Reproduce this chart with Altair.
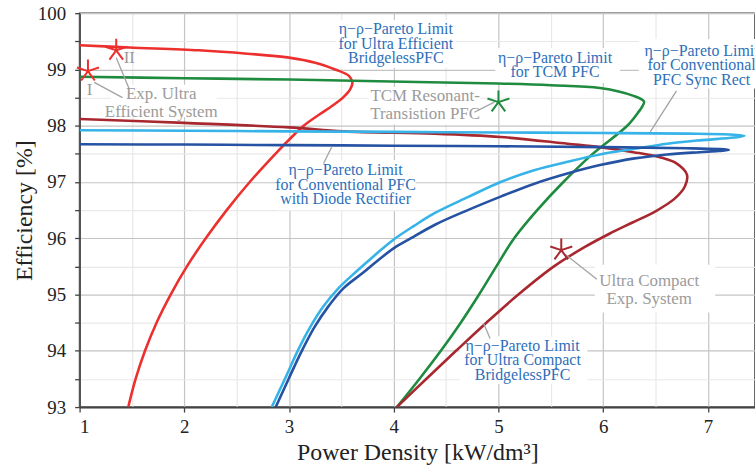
import altair as alt
import pandas as pd

# ---------------- data ----------------
series_names = ["Ultra Efficient", "TCM PFC", "Ultra Compact", "Sync Rect", "Diode Rect"]
series_colors = ["#ec302e", "#1f8b3f", "#a8282f", "#36b3e8", "#2552a3"]

ue_x = [1.0, 1.475, 2.14, 2.6, 3.0, 3.25, 3.44, 3.57, 3.605, 3.585, 3.515, 3.41, 3.29, 3.14, 3.0,
        2.87, 2.625, 2.405, 2.205, 2.025, 1.87, 1.735, 1.625, 1.535, 1.465]
ue_y = [99.43, 99.39, 99.34, 99.28, 99.21, 99.12, 99.0, 98.89, 98.77, 98.65, 98.5, 98.35, 98.2, 98.0, 97.75,
        97.5, 97.0, 96.5, 96.0, 95.5, 95.0, 94.5, 94.0, 93.5, 93.0]

tcm_x = [1.0, 2.0, 3.0, 3.85, 5.0, 5.5, 5.97, 6.29, 6.39, 6.37, 6.34, 6.23, 5.90, 5.62,
         5.37, 5.15, 4.98, 4.815, 4.64, 4.45, 4.245, 4.03]
tcm_y = [98.87, 98.845, 98.82, 98.79, 98.75, 98.72, 98.67, 98.53, 98.43, 98.33, 98.25, 98.0, 97.5, 97.0,
         96.5, 96.0, 95.5, 95.0, 94.5, 94.0, 93.5, 93.0]

uc_x = [1.0, 2.0, 3.0, 3.52, 4.39, 5.02, 5.66, 5.97, 6.29, 6.54, 6.70, 6.80, 6.78, 6.68,
        6.50, 6.28, 6.06, 5.83, 5.53, 5.19, 4.885, 4.595, 4.31, 4.03]
uc_y = [98.12, 98.05, 97.97, 97.9, 97.86, 97.80, 97.68, 97.62, 97.53, 97.44, 97.33, 97.13, 96.92, 96.70,
        96.48, 96.28, 96.08, 95.85, 95.5, 95.0, 94.5, 94.0, 93.5, 93.0]

sr_x = [1.0, 2.0, 3.0, 4.0, 5.0, 6.0, 6.8, 7.2, 7.35, 7.25, 6.92, 6.61, 6.30, 5.97, 5.66,
        5.34, 5.021, 4.707, 4.394, 4.194, 3.994, 3.814, 3.643, 3.471, 3.329, 3.205, 3.091, 2.968, 2.835]
sr_y = [97.92, 97.91, 97.90, 97.89, 97.88, 97.87, 97.86, 97.845, 97.82, 97.79, 97.74, 97.68, 97.59, 97.49, 97.36,
        97.21, 97.0, 96.73, 96.45, 96.22, 95.97, 95.69, 95.41, 95.11, 94.79, 94.43, 94.03, 93.53, 93.0]

dr_x = [1.0, 2.0, 3.0, 4.0, 5.0, 6.0, 6.8, 7.1, 7.2, 7.1, 6.92, 6.61, 6.30, 5.97, 5.658,
        5.344, 5.021, 4.707, 4.394, 4.137, 4.023, 3.871, 3.709, 3.519, 3.376, 3.243, 3.12, 2.996, 2.873]
dr_y = [97.67, 97.665, 97.655, 97.645, 97.635, 97.62, 97.60, 97.585, 97.57, 97.55, 97.53, 97.49, 97.42, 97.30, 97.15,
        96.97, 96.74, 96.50, 96.24, 95.97, 95.85, 95.64, 95.39, 95.11, 94.79, 94.42, 93.99, 93.50, 93.0]

# experimental systems (stars)
star_x = [1.08, 1.35, 5.0, 5.6]
star_y = [98.97, 99.34, 98.42, 95.79]
star_series = ["Ultra Efficient", "Ultra Efficient", "TCM PFC", "Ultra Compact"]

# annotation texts (position = centre of first line)
blue_text = ["η−ρ−Pareto Limit\nfor Ultra Efficient\nBridgelessPFC",
             "η−ρ−Pareto Limit\nfor TCM PFC",
             "η−ρ−Pareto Limit\nfor Conventional\nPFC Sync Rect",
             "η−ρ−Pareto Limit\nfor Conventional PFC\nwith Diode Rectifier",
             "η−ρ−Pareto Limit\nfor Ultra Compact\nBridgelessPFC"]
blue_x = [4.02, 5.54, 6.94, 3.54, 5.23]
blue_y = [99.715, 99.21, 99.33, 97.21, 94.09]

gray_text = ["Exp. Ultra\nEfficient System", "TCM Resonant-\nTransistion PFC",
             "Ultra Compact\nExp. System", "I", "II"]
gray_x = [1.78, 4.30, 6.44, 1.095, 1.475]
gray_y = [98.56, 98.53, 95.235, 98.64, 99.21]

# label backgrounds (data coordinates)
box_x1 = [3.45, 4.97, 6.34, 2.88, 4.63, 1.30, 3.76, 5.92]
box_x2 = [4.59, 6.16, 7.56, 4.21, 5.85, 2.31, 4.82, 7.07]
box_y1 = [99.03, 98.76, 98.66, 96.50, 93.41, 98.15, 98.02, 94.68]
box_y2 = [99.88, 99.38, 99.54, 97.39, 94.26, 98.73, 98.69, 95.53]

# leader lines
lead_x1 = [1.14, 1.35, 4.77, 6.70, 3.41, 4.86, 5.64]
lead_y1 = [98.77, 99.21, 98.24, 98.62, 97.63, 94.48, 95.71]
lead_x2 = [1.41, 1.475, 4.96, 6.45, 3.33, 4.92, 5.94]
lead_y2 = [98.50, 98.65, 98.42, 97.89, 97.33, 94.22, 95.27]

# ---------------- tables ----------------
rows = []
for name, xs, ys in zip(series_names, [ue_x, tcm_x, uc_x, sr_x, dr_x], [ue_y, tcm_y, uc_y, sr_y, dr_y]):
    for i, (a, b) in enumerate(zip(xs, ys)):
        rows.append({"series": name, "x": a, "y": b, "o": i})
curves = pd.DataFrame(rows)
stars = pd.DataFrame({"series": star_series, "x": star_x, "y": star_y})
blue = pd.DataFrame({"t": blue_text, "x": blue_x, "y": blue_y})
gray = pd.DataFrame({"t": gray_text, "x": gray_x, "y": gray_y})
boxes = pd.DataFrame({"x": box_x1, "x2": box_x2, "y": box_y1, "y2": box_y2})
leads = pd.DataFrame({"x": lead_x1, "y": lead_y1, "x2": lead_x2, "y2": lead_y2})

FONT = "Liberation Serif, Times New Roman, DejaVu Serif, serif"
minor = "datum.value % 1 !== 0"
xs_ = alt.Scale(domain=[1, 7.45], nice=False, zero=False)
ys_ = alt.Scale(domain=[93, 100], nice=False, zero=False)

xaxis = alt.Axis(
    values=[1 + 0.5 * i for i in range(14)],
    labelExpr="datum.value % 1 === 0 ? format(datum.value, 'd') : ''",
    title="Power Density [kW/dm³]", titleFont=FONT, titleFontSize=24, titleFontWeight="normal",
    titleColor="#222", titleY=53, titleBaseline="alphabetic",
    labelFont=FONT, labelFontSize=19, labelColor="#222", labelPadding=6,
    tickSize=5, tickColor="#444", tickWidth=1.3,
    tickOpacity={"condition": {"test": minor, "value": 0}, "value": 1},
    domainColor="#444", domainWidth=1.6,
    grid=True, gridWidth=1.2,
    gridColor={"condition": {"test": minor, "value": "#e8e8e8"}, "value": "#c4c4c4"},
)
yaxis = alt.Axis(
    values=[93 + 0.5 * i for i in range(15)],
    labelExpr="datum.value % 1 === 0 ? format(datum.value, 'd') : ''",
    title="Efficiency [%]", titleFont=FONT, titleFontSize=24, titleFontWeight="normal",
    titleColor="#222", titleAngle=270, titleX=-48, titleY=198, titleBaseline="alphabetic",
    titleAlign="center",
    labelFont=FONT, labelFontSize=19, labelColor="#222", labelPadding=9,
    tickSize=5, tickColor="#444", tickWidth=1.3,
    domainColor="#444", domainWidth=1.6,
    grid=True, gridWidth=1.2,
    gridColor={"condition": {"test": minor, "value": "#e8e8e8"}, "value": "#c4c4c4"},
)
X = alt.X("x:Q", scale=xs_, axis=xaxis)
Y = alt.Y("y:Q", scale=ys_, axis=yaxis)
color = alt.Color("series:N", scale=alt.Scale(domain=series_names, range=series_colors), legend=None)

box_layer = alt.Chart(boxes).mark_rect(color="white", clip=True).encode(
    x=X, x2="x2:Q", y=Y, y2="y2:Q")

line_layer = alt.Chart(curves).mark_line(strokeWidth=2.6, interpolate="catmull-rom", clip=True).encode(
    x=X, y=Y, order="o:Q", color=color, detail="series:N")

lead_layer = alt.Chart(leads).mark_rule(color="#a3a3a3", strokeWidth=1.3).encode(
    x=X, y=Y, x2="x2:Q", y2="y2:Q")

star_path = "M0,0L0,-1M0,0L0.951,-0.309M0,0L0.588,0.809M0,0L-0.588,0.809M0,0L-0.951,-0.309"
star_layer = alt.Chart(stars).mark_point(shape=star_path, filled=False, size=540, strokeWidth=2,
                                         opacity=1).encode(x=X, y=Y, color=color)

blue_layer = alt.Chart(blue).mark_text(font=FONT, fontSize=16, color="#2e6fba", lineBreak="\n",
                                       lineHeight=14.5, align="center", baseline="middle").encode(
    x=X, y=Y, text="t:N")
gray_layer = alt.Chart(gray).mark_text(font=FONT, fontSize=17, color="#9b9b9b", lineBreak="\n",
                                       lineHeight=18, align="center", baseline="middle").encode(
    x=X, y=Y, text="t:N")

chart = alt.layer(box_layer, line_layer, lead_layer, star_layer, blue_layer, gray_layer).properties(
    width=679, height=396,
    autosize=alt.AutoSizeParams(type="none"),
    padding={"left": 80, "top": 12, "right": 0, "bottom": 61},
    background="white",
).configure_view(stroke="#444", strokeWidth=1.6)

chart.save("out.html", embed_options={"renderer": "svg", "actions": False})
